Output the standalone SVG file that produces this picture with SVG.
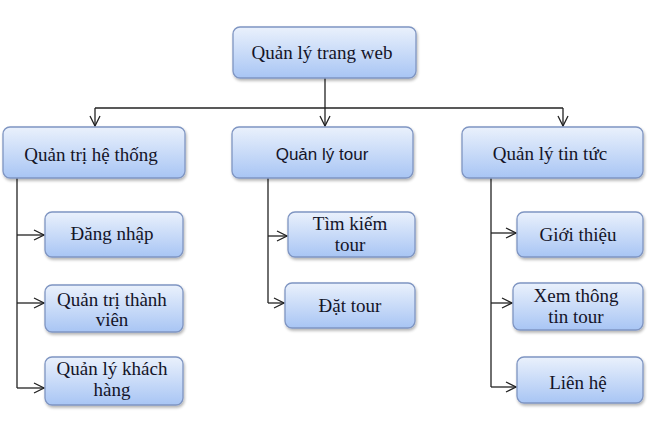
<svg xmlns="http://www.w3.org/2000/svg" width="659" height="423" viewBox="0 0 659 423">
<defs>
<linearGradient id="g" x1="0" y1="0" x2="0" y2="1">
<stop offset="0" stop-color="#eaf1fc"/>
<stop offset="1" stop-color="#a8c5f4"/>
</linearGradient>
<filter id="sh" x="-10%" y="-10%" width="125%" height="135%">
<feGaussianBlur in="SourceAlpha" stdDeviation="1.5"/>
<feOffset dx="1" dy="2" result="b"/>
<feComponentTransfer><feFuncA type="linear" slope="0.3"/></feComponentTransfer>
<feMerge><feMergeNode/><feMergeNode in="SourceGraphic"/></feMerge>
</filter>
<marker id="arr" viewBox="0 0 12 12" refX="11" refY="6" markerWidth="12" markerHeight="12" markerUnits="userSpaceOnUse" orient="auto">
<path d="M1,1 L11,6 L1,11" fill="none" stroke="#222" stroke-width="1.3"/>
</marker>
</defs>
<style>
.box{fill:url(#g);stroke:#7f95c2;stroke-width:1.3;filter:url(#sh)}
.t{font-family:'Liberation Serif','Times New Roman',serif;font-size:19px;fill:#141428;text-anchor:middle}
.s{font-family:'Liberation Sans',Arial,sans-serif;font-size:17px;fill:#141428;text-anchor:middle}
.c{fill:none;stroke:#222;stroke-width:1.3}
</style>
<rect width="659" height="423" fill="#ffffff"/>
<g id="connectors">
<path class="c" d="M325,78 V108"/>
<path class="c" d="M95,108 H563"/>
<path class="c" d="M95,108 V126" marker-end="url(#arr)"/>
<path class="c" d="M325,108 V126" marker-end="url(#arr)"/>
<path class="c" d="M563,108 V126" marker-end="url(#arr)"/>
<path class="c" d="M17,178 V388"/>
<path class="c" d="M17,235 H44" marker-end="url(#arr)"/>
<path class="c" d="M17,303 H44" marker-end="url(#arr)"/>
<path class="c" d="M17,388 H44" marker-end="url(#arr)"/>
<path class="c" d="M268,178 V303"/>
<path class="c" d="M268,236 H287" marker-end="url(#arr)"/>
<path class="c" d="M268,303 H284" marker-end="url(#arr)"/>
<path class="c" d="M491,178 V387"/>
<path class="c" d="M491,233 H516" marker-end="url(#arr)"/>
<path class="c" d="M491,303 H512" marker-end="url(#arr)"/>
<path class="c" d="M491,387 H516" marker-end="url(#arr)"/>
</g>
<g id="root"><rect class="box" x="233" y="27" width="183" height="51" rx="7"/><text class="t" x="322" y="59">Quản lý trang web</text></g>
<g id="qtht"><rect class="box" x="3" y="127" width="182" height="51" rx="7"/><text class="t" x="91" y="161">Quản trị hệ thống</text></g>
<g id="qltour"><rect class="box" x="232" y="127" width="181" height="51" rx="7"/><text class="s" x="322" y="160">Quản lý tour</text></g>
<g id="qltt"><rect class="box" x="462" y="127" width="181" height="51" rx="7"/><text class="t" x="550" y="160">Quản lý tin tức</text></g>
<g id="dangnhap"><rect class="box" x="45" y="212" width="138" height="45" rx="7"/><text class="t" x="112" y="240">Đăng nhập</text></g>
<g id="qttv"><rect class="box" x="45" y="285" width="138" height="47" rx="7"/><text class="t" x="112" y="306">Quản trị thành</text><text class="t" x="112" y="326">viên</text></g>
<g id="qlkh"><rect class="box" x="45" y="357" width="138" height="48" rx="7"/><text class="t" x="112" y="375">Quản lý khách</text><text class="t" x="112" y="396">hàng</text></g>
<g id="timkiem"><rect class="box" x="288" y="212" width="127" height="45" rx="7"/><text class="t" x="350" y="230">Tìm kiếm</text><text class="t" x="350" y="251">tour</text></g>
<g id="dattour"><rect class="box" x="285" y="283" width="130" height="45" rx="7"/><text class="t" x="350" y="312">Đặt tour</text></g>
<g id="gioithieu"><rect class="box" x="517" y="212" width="126" height="45" rx="7"/><text class="t" x="578" y="241">Giới thiệu</text></g>
<g id="xemtt"><rect class="box" x="513" y="283" width="130" height="47" rx="7"/><text class="t" x="576" y="302">Xem thông</text><text class="t" x="576" y="323">tin tour</text></g>
<g id="lienhe"><rect class="box" x="517" y="357" width="126" height="46" rx="7"/><text class="t" x="578" y="389">Liên hệ</text></g>
</svg>
